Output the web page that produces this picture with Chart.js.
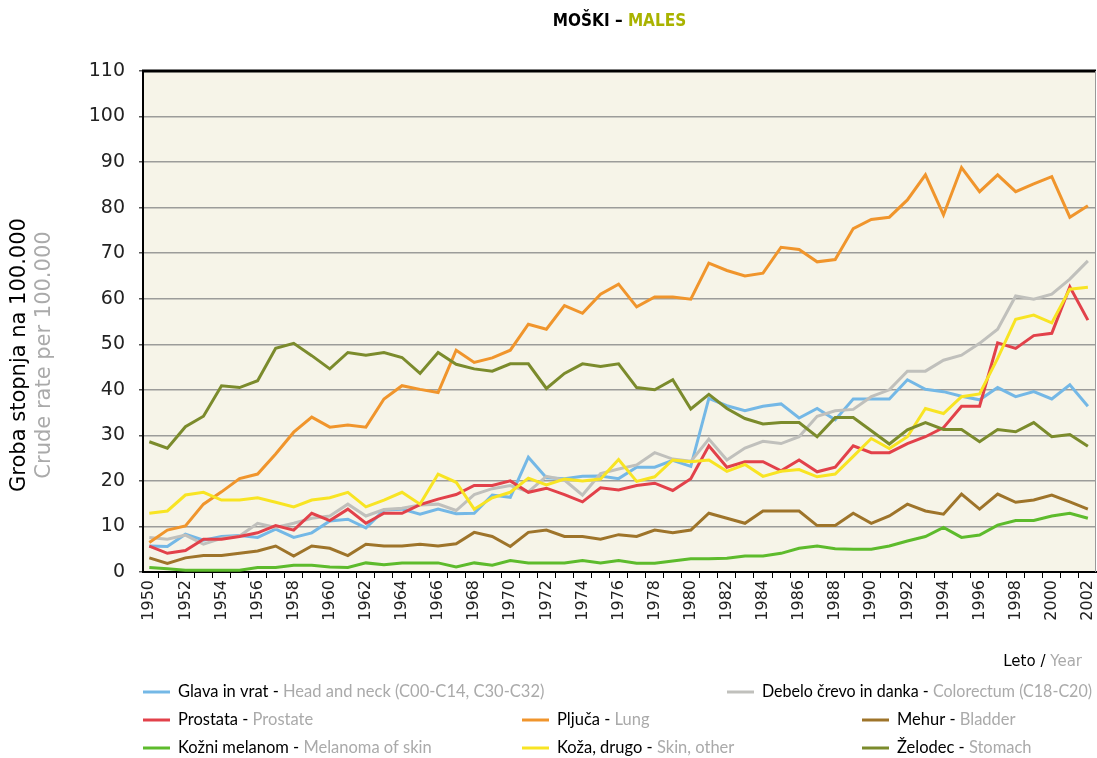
<!DOCTYPE html>
<html>
<head>
<meta charset="utf-8">
<title>Moški - Males</title>
<script src="https://cdn.jsdelivr.net/npm/chart.js@4.4.1/dist/chart.umd.min.js"></script>
<style>
    html, body { margin: 0; padding: 0; background: #fff; }
    #wrap { position: relative; width: 1097px; height: 758px; }
</style>
</head>
<body>
<div id="wrap"><canvas id="cancer-chart" width="1097" height="758"></canvas></div>
<script>
// years 1950 - 2002
var years = [];
for (var yr = 1950; yr <= 2002; yr++) years.push(yr);

var headNeck = [5.7, 5.6, 8.3, 7.0, 7.8, 8.0, 7.6, 9.4, 7.6, 8.6, 11.2, 11.6, 9.7, 13.6, 13.8, 12.7, 13.8, 12.8, 12.9, 16.9,
    16.4, 25.2, 20.7, 20.5, 21.0, 21.1, 20.5, 23.0, 23.0, 24.5, 23.2, 38.1, 36.5, 35.4, 36.4, 36.9, 33.8, 35.9, 33.4, 38.0,
    38.0, 38.0, 42.2, 40.1, 39.6, 38.6, 37.8, 40.5, 38.5, 39.6, 38.0, 41.1, 36.4];
var colorectum = [7.6, 7.2, 8.1, 6.1, 7.4, 7.9, 10.7, 9.8, 10.7, 11.8, 12.3, 14.9, 12.3, 13.7, 14.0, 14.7, 14.9, 13.5, 17.0, 18.3,
    19.0, 17.6, 21.0, 20.2, 16.9, 21.6, 22.6, 23.5, 26.2, 24.8, 24.3, 29.2, 24.6, 27.2, 28.7, 28.2, 29.7, 34.2, 35.4, 35.7,
    38.5, 40.0, 44.1, 44.1, 46.5, 47.6, 50.2, 53.3, 60.6, 59.9, 61.0, 64.3, 68.3];
var prostate = [5.7, 4.1, 4.7, 7.2, 7.2, 7.8, 8.6, 10.2, 9.2, 12.9, 11.3, 13.8, 10.7, 12.9, 12.9, 14.8, 16.0, 17.0, 19.0, 19.0,
    20.0, 17.5, 18.4, 17.0, 15.4, 18.5, 18.0, 19.0, 19.5, 17.9, 20.5, 27.7, 23.0, 24.2, 24.2, 22.2, 24.6, 22.0, 23.0, 27.7,
    26.2, 26.2, 28.2, 29.7, 31.7, 36.4, 36.4, 50.3, 49.1, 51.9, 52.4, 62.6, 55.3];
var lung = [6.5, 9.2, 10.1, 14.9, 17.6, 20.5, 21.5, 25.9, 30.7, 34.0, 31.8, 32.3, 31.8, 38.0, 40.9, 40.1, 39.4, 48.7, 46.0, 47.0,
    48.7, 54.4, 53.3, 58.5, 56.8, 61.0, 63.2, 58.2, 60.4, 60.4, 59.9, 67.8, 66.2, 65.0, 65.6, 71.3, 70.8, 68.1, 68.6, 75.4,
    77.4, 77.9, 81.7, 87.2, 78.4, 88.8, 83.5, 87.2, 83.5, 85.2, 86.8, 77.9, 80.4];
var bladder = [3.1, 1.9, 3.1, 3.6, 3.6, 4.1, 4.6, 5.7, 3.5, 5.7, 5.2, 3.6, 6.1, 5.7, 5.7, 6.1, 5.7, 6.2, 8.7, 7.8,
    5.6, 8.7, 9.2, 7.8, 7.8, 7.2, 8.2, 7.8, 9.2, 8.6, 9.2, 12.9, 11.8, 10.7, 13.4, 13.4, 13.4, 10.2, 10.2, 12.9,
    10.7, 12.3, 14.9, 13.4, 12.7, 17.1, 13.8, 17.1, 15.3, 15.8, 16.9, 15.4, 13.8];
var melanoma = [1.0, 0.7, 0.4, 0.4, 0.4, 0.4, 1.0, 1.0, 1.5, 1.5, 1.1, 1.0, 2.0, 1.6, 2.0, 2.0, 2.0, 1.1, 2.0, 1.5,
    2.5, 2.0, 2.0, 2.0, 2.5, 2.0, 2.5, 1.9, 1.9, 2.4, 2.9, 2.9, 3.0, 3.5, 3.5, 4.1, 5.2, 5.7, 5.1, 5.0,
    5.0, 5.7, 6.8, 7.8, 9.8, 7.6, 8.1, 10.3, 11.3, 11.3, 12.3, 12.9, 11.8];
var skinOther = [12.9, 13.4, 16.9, 17.5, 15.8, 15.8, 16.3, 15.3, 14.3, 15.8, 16.3, 17.5, 14.3, 15.8, 17.5, 14.9, 21.5, 19.7, 13.8, 16.3,
    17.5, 20.6, 19.1, 20.4, 20.0, 20.4, 24.7, 19.9, 20.9, 24.6, 24.2, 24.6, 22.1, 23.6, 21.0, 22.1, 22.5, 20.9, 21.5, 25.4,
    29.3, 27.1, 29.7, 35.9, 34.8, 38.5, 39.1, 46.9, 55.5, 56.4, 54.7, 62.1, 62.5];
var stomach = [28.6, 27.2, 31.9, 34.2, 40.9, 40.5, 42.0, 49.1, 50.2, 47.5, 44.6, 48.2, 47.6, 48.2, 47.1, 43.6, 48.2, 45.6, 44.6, 44.1,
    45.7, 45.7, 40.3, 43.6, 45.7, 45.1, 45.7, 40.5, 40.0, 42.2, 35.8, 39.0, 35.9, 33.7, 32.5, 32.8, 32.8, 29.7, 33.9, 33.9,
    31.0, 28.1, 31.2, 32.8, 31.3, 31.3, 28.6, 31.3, 30.8, 32.8, 29.7, 30.2, 27.6];

var namesSl = ["Glava in vrat", "Debelo črevo in danka", "Prostata", "Pljuča", "Mehur", "Kožni melanom", "Koža, drugo", "Želodec"];
var namesEn = ["Head and neck (C00-C14, C30-C32)", "Colorectum (C18-C20)", "Prostate", "Lung", "Bladder", "Melanoma of skin", "Skin, other", "Stomach"];
var colors = ["#74B8E6", "#C0C0BC", "#E2414A", "#F0952C", "#9E742A", "#5DBB2C", "#F8E423", "#7B8B2C"];
var seriesList = [headNeck, colorectum, prostate, lung, bladder, melanoma, skinOther, stomach];

var yTicks = [0, 10, 20, 30, 40, 50, 60, 70, 80, 90, 100, 110];

var FONT = "'DejaVu Sans', sans-serif";
var LEGEND_FONT = "16.5px Lato, 'DejaVu Sans', sans-serif";
var PLOT_L = 143, PLOT_R = 1096, PLOT_T = 71, PLOT_B = 572;

var datasets = seriesList.map(function (vals, i) {
    return {
        label: namesSl[i] + " - " + namesEn[i],
        data: vals.map(function (v, k) { return {x: years[k], y: v}; }),
        borderColor: colors[i],
        backgroundColor: colors[i],
        borderWidth: 3,
        pointRadius: 0,
        tension: 0,
        fill: false
    };
});
// stomach and lung drawn on top like in the original
datasets.reverse();

var decorations = {
    id: "decorations",
    beforeDraw: function (chart) {
        var ctx = chart.ctx, a = chart.chartArea;
        ctx.save();
        ctx.fillStyle = "#F6F4E8";
        ctx.fillRect(a.left, a.top, a.right - a.left, a.bottom - a.top);
        ctx.restore();
    },
    afterDraw: function (chart) {
        var ctx = chart.ctx, a = chart.chartArea;
        ctx.save();
        // frame: black top, grey right
        ctx.strokeStyle = "#000";
        ctx.lineWidth = 3;
        ctx.beginPath();
        ctx.moveTo(a.left - 1, a.top);
        ctx.lineTo(a.right, a.top);
        ctx.stroke();
        ctx.strokeStyle = "#999";
        ctx.lineWidth = 1;
        ctx.beginPath();
        ctx.moveTo(a.right - 0.5, a.top);
        ctx.lineTo(a.right - 0.5, a.bottom);
        ctx.stroke();

        // title
        ctx.font = "bold 17px 'DejaVu Sans Condensed', " + FONT;
        ctx.textBaseline = "middle";
        var t1 = "MOŠKI – ", t2 = "MALES";
        var w1 = ctx.measureText(t1).width, w2 = ctx.measureText(t2).width;
        var tx = (a.left + a.right) / 2 - (w1 + w2) / 2;
        ctx.fillStyle = "#000";
        ctx.fillText(t1, tx, 22);
        ctx.fillStyle = "#A9B300";
        ctx.fillText(t2, tx + w1, 22);

        // y axis titles
        ctx.save();
        ctx.translate(20, 355);
        ctx.rotate(-Math.PI / 2);
        ctx.textAlign = "center";
        ctx.font = "21px " + FONT;
        ctx.fillStyle = "#000";
        ctx.fillText("Groba stopnja na 100.000", 0, 0);
        ctx.fillStyle = "#AAAAAA";
        ctx.fillText("Crude rate per 100.000", 0, 25);
        ctx.restore();

        // x axis title
        ctx.font = "15px " + FONT;
        ctx.textAlign = "left";
        var lx1 = "Leto / ", lx2 = "Year";
        var lw = ctx.measureText(lx1 + lx2).width;
        var lx = 1082 - lw;
        ctx.fillStyle = "#000";
        ctx.fillText(lx1, lx, 662);
        ctx.fillStyle = "#AAAAAA";
        ctx.fillText(lx2, lx + ctx.measureText(lx1).width, 662);

        // legend
        var slots = [[143, 692], [727, 692], [143, 720], [522, 720], [862, 720], [143, 748], [522, 748], [862, 748]];
        ctx.font = LEGEND_FONT;
        slots.forEach(function (s, i) {
            var x = s[0], y = s[1];
            ctx.strokeStyle = colors[i];
            ctx.lineWidth = 3;
            ctx.beginPath();
            ctx.moveTo(x, y);
            ctx.lineTo(x + 27, y);
            ctx.stroke();
            var p1 = namesSl[i] + " - ";
            var w1 = ctx.measureText(p1).width, w2 = ctx.measureText(namesEn[i]).width;
            var room = 1092 - (x + 35);
            var k = Math.min(1, room / (w1 + w2));
            ctx.fillStyle = "#000";
            ctx.fillText(p1, x + 35, y, w1 * k);
            ctx.fillStyle = "#AAAAAA";
            ctx.fillText(namesEn[i], x + 35 + w1 * k, y, w2 * k);
        });
        ctx.restore();
    }
};

var ctx = document.getElementById("cancer-chart").getContext("2d");
var myChart = new Chart(ctx, {
    type: "line",
    data: {datasets: datasets},
    options: {
        responsive: false,
        animation: false,
        events: [],
        layout: {padding: {left: 0, right: 1097 - PLOT_R, top: PLOT_T, bottom: 0}},
        plugins: {legend: {display: false}, tooltip: {enabled: false}},
        scales: {
            x: {
                type: "linear",
                min: 1949.65,
                max: 2002.45,
                afterBuildTicks: function (scale) {
                    scale.ticks = years.map(function (v) { return {value: v}; });
                },
                afterFit: function (scale) {
                    scale.height = 758 - PLOT_B;
                    scale.paddingLeft = 0;
                    scale.paddingRight = 0;
                },
                grid: {display: true, drawOnChartArea: false, drawTicks: true, tickLength: 6, color: "#000", offset: true},
                border: {display: true, color: "#000", width: 2},
                ticks: {
                    autoSkip: false,
                    minRotation: 90,
                    maxRotation: 90,
                    padding: 2,
                    color: "#222",
                    font: {family: FONT, size: 16},
                    callback: function (v) { return v % 2 === 0 ? String(v) : ""; }
                }
            },
            y: {
                min: 0,
                max: 110,
                afterBuildTicks: function (scale) {
                    scale.ticks = yTicks.map(function (v) { return {value: v}; });
                },
                afterFit: function (scale) {
                    scale.width = PLOT_L;
                    scale.paddingTop = 0;
                    scale.paddingBottom = 0;
                },
                grid: {color: "#9C9C9A", lineWidth: 1.5, tickLength: 4, tickColor: "#555"},
                border: {display: true, color: "#000", width: 2},
                ticks: {padding: 14, color: "#222", font: {family: FONT, size: 19}}
            }
        }
    },
    plugins: [decorations]
});
</script>
</body>
</html>
